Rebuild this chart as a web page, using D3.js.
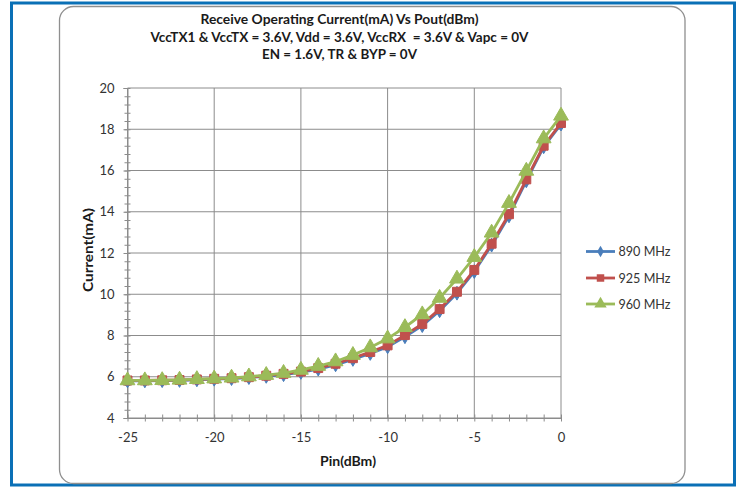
<!DOCTYPE html>
<html>
<head>
<meta charset="utf-8">
<script src="https://cdn.jsdelivr.net/npm/d3@7"></script>
<style>
  html, body { margin: 0; padding: 0; background: #fff; }
  svg { display: block; }
  text { font-family: Lato, "Open Sans", "Liberation Sans", sans-serif; }
</style>
</head>
<body>
<svg id="chart" width="744" height="487"></svg>
<script>
// ---- data ----
const pin = [-25,-24,-23,-22,-21,-20,-19,-18,-17,-16,-15,-14,-13,-12,-11,-10,-9,-8,-7,-6,-5,-4,-3,-2,-1,0];
const mhz890 = [5.80,5.80,5.81,5.82,5.85,5.88,5.91,5.96,6.02,6.10,6.21,6.37,6.58,6.84,7.13,7.45,7.94,8.48,9.20,10.05,11.10,12.38,13.80,15.50,17.15,18.25];
const mhz925 = [5.82,5.82,5.83,5.84,5.87,5.90,5.93,5.98,6.05,6.14,6.25,6.42,6.63,6.90,7.20,7.52,8.02,8.56,9.28,10.12,11.18,12.45,13.88,15.57,17.20,18.30];
const mhz960 = [5.82,5.82,5.83,5.85,5.88,5.91,5.95,6.01,6.08,6.18,6.33,6.52,6.74,7.05,7.42,7.85,8.40,9.02,9.82,10.75,11.80,12.98,14.42,15.98,17.55,18.65];
const seriesNames = ["890 MHz", "925 MHz", "960 MHz"];
const xTicks = [-25,-20,-15,-10,-5,0];
const yTicks = [4,6,8,10,12,14,16,18,20];
const titleLines = [
  "Receive Operating Current(mA) Vs Pout(dBm)",
  "VccTX1 & VccTX = 3.6V, Vdd = 3.6V, VccRX  = 3.6V & Vapc = 0V",
  "EN = 1.6V, TR & BYP = 0V"
];
const xLabel = "Pin(dBm)";
const yLabel = "Current(mA)";

// ---- layout ----
const svg = d3.select("#chart");
const colors = ["#4a7ebb", "#c0504d", "#9bbb59"];
const symbols = [d3.symbolDiamond, d3.symbolSquare, d3.symbolTriangle];
const symSizes = [55, 80, 95];

const x = d3.scaleLinear().domain([-25, 0]).range([127.5, 561]);
const y = d3.scaleLinear().domain([4, 20]).range([418, 88]);

// outer blue frame
svg.append("rect").attr("x", 11.5).attr("y", 3).attr("width", 723).attr("height", 482)
  .attr("fill", "#fff").attr("stroke", "#0a70b6").attr("stroke-width", 3);
// inner rounded chart area
svg.append("rect").attr("x", 59.5).attr("y", 6.5).attr("width", 625.5).attr("height", 477)
  .attr("rx", 14).attr("fill", "#fff").attr("stroke", "#8f8f8f").attr("stroke-width", 1.3);

// titles
const titleWidths = [278, 378, 155];
const titleBase = [24, 41.8, 59.3];
titleLines.forEach((t, i) => {
  svg.append("text").attr("x", 339.5).attr("y", titleBase[i])
    .attr("text-anchor", "middle").attr("font-size", 13).attr("font-weight", "bold")
    .attr("fill", "#1a1a1a")
    .attr("textLength", titleWidths[i]).attr("lengthAdjust", "spacingAndGlyphs")
    .style("white-space", "pre")
    .text(t);
});

// gridlines
const grid = svg.append("g");
yTicks.forEach(v => {
  grid.append("line").attr("x1", x(-25)).attr("x2", x(0)).attr("y1", y(v)).attr("y2", y(v))
    .attr("stroke", "#8c8c8c").attr("stroke-width", 1);
});
xTicks.forEach(v => {
  grid.append("line").attr("x1", x(v)).attr("x2", x(v)).attr("y1", y(4)).attr("y2", y(20))
    .attr("stroke", "#8c8c8c").attr("stroke-width", 1);
});

// axes
const xAxis = d3.axisBottom(x).tickValues(xTicks).tickSize(0).tickPadding(0).tickFormat(d3.format("d"));
const gx = svg.append("g").attr("transform", `translate(0,${y(4)})`).call(xAxis);
gx.select(".domain").attr("stroke", "#8c8c8c");
gx.selectAll("text").attr("font-size", 13).attr("fill", "#333").attr("dy", 0).attr("y", 24)
  .text(d => d === 0 ? "0" : String(d).replace("-", "-"));
const xMinor = d3.axisBottom(x).tickValues(d3.range(-25, 1, 1)).tickSize(3.5).tickFormat("");
const gxm = svg.append("g").attr("transform", `translate(0,${y(4) - 3.5})`).call(xMinor);
gxm.select(".domain").remove();
gxm.selectAll("line").attr("stroke", "#8c8c8c").attr("y2", 7);

const yAxis = d3.axisLeft(y).tickValues(yTicks).tickSize(4).tickPadding(9);
const gy = svg.append("g").attr("transform", `translate(${x(-25)},0)`).call(yAxis);
gy.select(".domain").attr("stroke", "#8c8c8c");
gy.selectAll("line").attr("stroke", "#8c8c8c");
gy.selectAll("text").attr("font-size", 13).attr("fill", "#333");
const yMinor = d3.axisLeft(y).tickValues(d3.range(4, 20.01, 0.4)).tickSize(3).tickFormat("");
const gym = svg.append("g").attr("transform", `translate(${x(-25) + 3},0)`).call(yMinor);
gym.select(".domain").remove();
gym.selectAll("line").attr("stroke", "#8c8c8c").attr("x2", -6);

// axis titles
svg.append("text").attr("x", 348).attr("y", 466).attr("text-anchor", "middle")
  .attr("font-size", 13).attr("font-weight", "bold").attr("fill", "#1a1a1a")
  .attr("textLength", 56).attr("lengthAdjust", "spacingAndGlyphs").text(xLabel);
svg.append("text").attr("transform", "translate(92.5,250) rotate(-90)").attr("text-anchor", "middle")
  .attr("font-size", 13).attr("font-weight", "bold").attr("fill", "#1a1a1a")
  .attr("textLength", 84).attr("lengthAdjust", "spacingAndGlyphs").text(yLabel);

// series
const allSeries = [mhz890, mhz925, mhz960];
const line = d3.line().x((d, i) => x(pin[i])).y(d => y(d));
allSeries.forEach((vals, si) => {
  const g = svg.append("g");
  g.append("path").datum(vals).attr("d", line).attr("fill", "none")
    .attr("stroke", colors[si]).attr("stroke-width", 2.8).attr("stroke-linejoin", "round");
  g.selectAll("path.m").data(vals).join("path").attr("class", "m")
    .attr("transform", (d, i) => `translate(${x(pin[i])},${y(d)})`)
    .attr("d", d3.symbol().type(symbols[si]).size(symSizes[si]))
    .attr("fill", colors[si]).attr("stroke", colors[si]).attr("stroke-width", 1);
});

// legend
const legY = [251.5, 278, 304];
seriesNames.forEach((name, i) => {
  const g = svg.append("g");
  g.append("line").attr("x1", 586).attr("x2", 615).attr("y1", legY[i]).attr("y2", legY[i])
    .attr("stroke", colors[i]).attr("stroke-width", 2.8);
  g.append("path").attr("transform", `translate(600.5,${legY[i]})`)
    .attr("d", d3.symbol().type(symbols[i]).size(symSizes[i] * 0.7))
    .attr("fill", colors[i]);
  g.append("text").attr("x", 618.5).attr("y", legY[i] + 4.7).attr("font-size", 13)
    .attr("fill", "#333").attr("textLength", 52).attr("lengthAdjust", "spacingAndGlyphs").text(name);
});
</script>
</body>
</html>
